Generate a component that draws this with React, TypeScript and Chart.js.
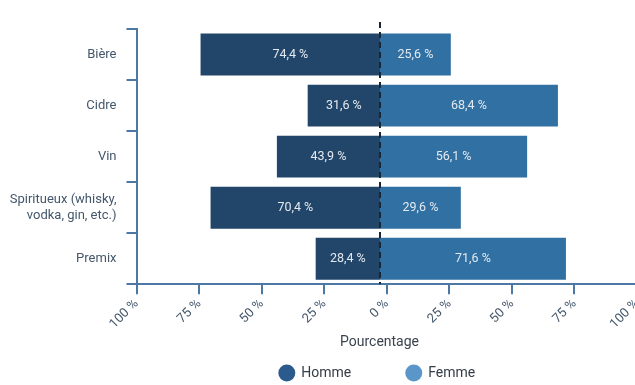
import React, { useEffect, useRef } from "react";
import { Chart, registerables } from "chart.js";

Chart.register(...registerables);

// ---- data ----
const categories: (string | string[])[] = [
  "Bière",
  "Cidre",
  "Vin",
  ["Spiritueux (whisky,", "vodka, gin, etc.)"],
  "Premix",
];
const hommeValues = [74.4, 31.6, 43.9, 70.4, 28.4];
const femmeValues = [25.6, 68.4, 56.1, 29.6, 71.6];
const seriesNames = ["Homme", "Femme"];
const axisTitle = "Pourcentage";

// ---- styles ----
const FONT = "Roboto";
const HOMME_BAR = "#22466a";
const FEMME_BAR = "#3170a2";
const HOMME_LEGEND = "#2b5b8c";
const FEMME_LEGEND = "#5b96c9";
const AXIS = "#4d78a6";
const TICK_TEXT = "#44576c";
const DIVIDER = -2.7; // where the two bars meet (reference line)

const fmt = (v: number) => v.toFixed(1).replace(".", ",") + " %";

const overlayPlugin = {
  id: "overlay",
  afterDatasetsDraw(chart: any) {
    const ctx = chart.ctx;
    const xs = chart.scales.x;
    const area = chart.chartArea;
    ctx.save();
    // value labels
    ctx.font = `12.5px ${FONT}`;
    ctx.fillStyle = "#e3e9f0";
    ctx.textAlign = "center";
    ctx.textBaseline = "middle";
    const sets = [hommeValues, femmeValues];
    sets.forEach((vals, i) => {
      const meta = chart.getDatasetMeta(i);
      meta.data.forEach((el: any, j: number) => {
        const p = el.getProps(["x", "base", "y"], true);
        ctx.fillText(fmt(vals[j]), (p.x + p.base) / 2, p.y + 0.5);
      });
    });
    // dashed divider
    const dx = Math.round(xs.getPixelForValue(DIVIDER));
    ctx.strokeStyle = "#1b2634";
    ctx.lineWidth = 2;
    ctx.setLineDash([6, 4]);
    ctx.beginPath();
    ctx.moveTo(dx, area.top - 7);
    ctx.lineTo(dx, area.bottom);
    ctx.stroke();
    ctx.restore();
  },
  afterDraw(chart: any) {
    const ctx = chart.ctx;
    ctx.save();
    // axis title
    ctx.font = `14px ${FONT}`;
    ctx.fillStyle = "#3a4450";
    ctx.textAlign = "center";
    ctx.textBaseline = "middle";
    ctx.fillText(axisTitle, 379.5, 342);
    // legend
    const colors = [HOMME_LEGEND, FEMME_LEGEND];
    const r = 8.5;
    const textGap = 6;
    const itemGap = 54;
    const widths = seriesNames.map((t) => 2 * r + textGap + ctx.measureText(t).width);
    const total = widths.reduce((a, b) => a + b, 0) + itemGap * (seriesNames.length - 1);
    let x = 376.8 - total / 2;
    const y = 373;
    seriesNames.forEach((t, i) => {
      ctx.fillStyle = colors[i];
      ctx.beginPath();
      ctx.arc(x + r, y, r, 0, Math.PI * 2);
      ctx.fill();
      ctx.fillStyle = "#333d47";
      ctx.textAlign = "left";
      ctx.fillText(t, x + 2 * r + textGap, y + 0.5);
      x += widths[i] + itemGap;
    });
    ctx.restore();
  },
};

export default function App() {
  const ref = useRef<HTMLCanvasElement>(null);
  useEffect(() => {
    document.body.style.margin = "0";
    const canvas = ref.current!;
    const chart = new Chart(canvas, {
      type: "bar",
      data: {
        labels: categories as any,
        datasets: [
          {
            label: seriesNames[0],
            data: hommeValues.map((v) => [-v, DIVIDER]) as any,
            backgroundColor: HOMME_BAR,
            categoryPercentage: 1,
            barPercentage: 0.82,
          },
          {
            label: seriesNames[1],
            data: femmeValues.map((v) => [DIVIDER, v]) as any,
            backgroundColor: FEMME_BAR,
            categoryPercentage: 1,
            barPercentage: 0.82,
          },
        ],
      },
      options: {
        indexAxis: "y",
        responsive: false,
        animation: false,
        devicePixelRatio: 1,
        layout: { padding: { top: 29, right: 3, left: 0, bottom: 0 } },
        scales: {
          x: {
            type: "linear",
            min: -100,
            max: 100,
            ticks: {
              stepSize: 25,
              autoSkip: false,
              minRotation: 45,
              maxRotation: 45,
              padding: 2,
              color: TICK_TEXT,
              font: { family: FONT, size: 13 },
              callback: (v: any) => Math.abs(Number(v)) + " %",
            },
            grid: {
              drawOnChartArea: false,
              drawTicks: true,
              tickLength: 10,
              color: AXIS,
              lineWidth: 2,
            },
            border: { color: AXIS, width: 2 },
            afterFit: (s: any) => {
              s.height = 100.7;
              s.paddingLeft = 0;
              s.paddingRight = 0;
            },
          },
          y: {
            stacked: true,
            ticks: {
              padding: 10,
              color: TICK_TEXT,
              font: { family: FONT, size: 13 },
            },
            grid: {
              offset: true,
              drawOnChartArea: false,
              drawTicks: true,
              tickLength: 10,
              color: AXIS,
              lineWidth: 2,
            },
            border: { color: AXIS, width: 2 },
            afterFit: (s: any) => {
              s.width = 136.5;
            },
          },
        },
        plugins: {
          legend: { display: false },
          tooltip: { enabled: false },
        },
      } as any,
      plugins: [overlayPlugin],
    });
    return () => chart.destroy();
  }, []);
  return (
    <div style={{ width: 635, height: 385, overflow: "hidden", position: "relative" }}>
      <canvas ref={ref} width={640} height={385} style={{ display: "block" }} />
    </div>
  );
}
